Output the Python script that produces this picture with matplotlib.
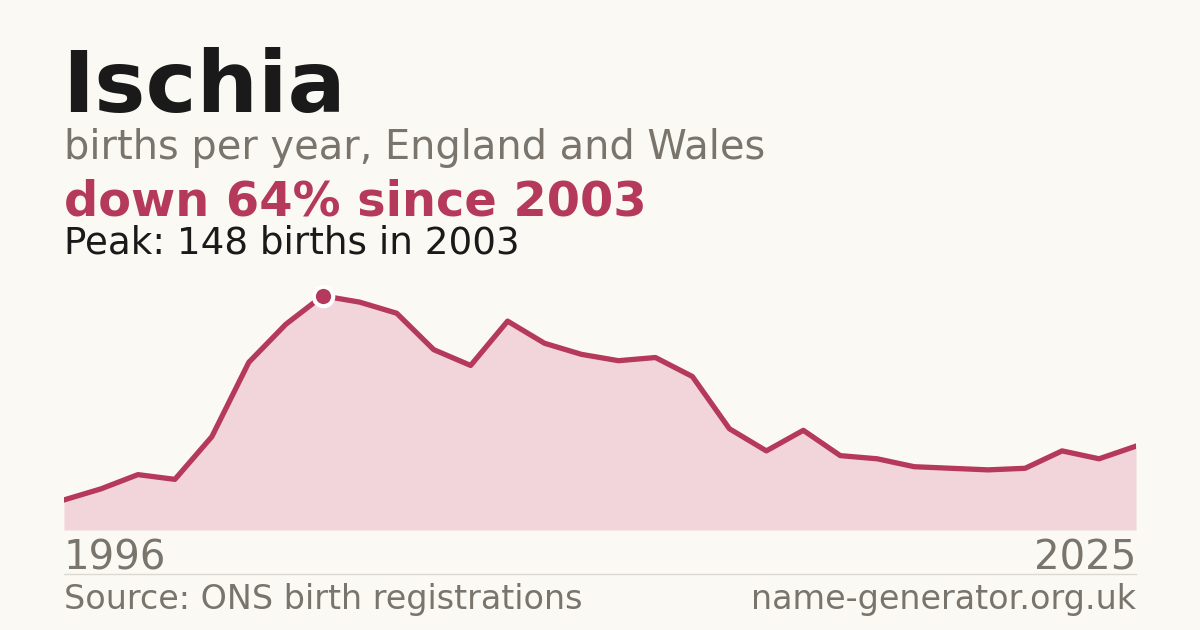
import numpy as np
import matplotlib.pyplot as plt

# births per year
years = np.arange(1996, 2026)
births = np.array([19, 26, 35, 32, 59, 106, 130, 148, 144, 137,
                   114, 104, 132, 118, 111, 107, 109, 97, 64, 50,
                   63, 47, 45, 40, 39, 38, 39, 50, 45, 53])

title = "Ischia"
subtitle = "births per year, England and Wales"
headline = "down 64% since 2003"
peak_note = "Peak: 148 births in 2003"
source = "Source: ONS birth registrations"
site = "name-generator.org.uk"

bg = "#faf9f4"
accent = "#b5395a"
fill_col = "#f1d5da"
grey = "#7a756c"
dark = "#1a1a1a"

W, H = 1200, 630
fig = plt.figure(figsize=(W / 100, H / 100), dpi=100, facecolor=bg)

def fy(py):
    # pixel row from top -> figure fraction
    return 1 - py / H

def fx(px):
    return px / W

# chart area
ax = fig.add_axes([fx(64), fy(530), fx(1136) - fx(64), fy(280) - fy(530)])
ax.set_facecolor(bg)
ax.fill_between(years, births, 0, color=fill_col, lw=0)
ax.plot(years, births, color=accent, lw=3.8, solid_joinstyle="round")
pk = np.argmax(births)
ax.plot(years[pk], births[pk], "o", ms=14, color=accent, mec="white", mew=3, zorder=5)
ax.set_xlim(years[0], years[-1])
ax.set_ylim(0, 158)
ax.axis("off")

# header text
fig.text(fx(62), fy(112), title, fontsize=62, fontweight="bold", color=dark, va="baseline")
fig.text(fx(64), fy(159), subtitle, fontsize=28.7, color=grey, va="baseline")
fig.text(fx(64), fy(215), headline, fontsize=34.5, fontweight="bold", color=accent, va="baseline")
fig.text(fx(64), fy(253), peak_note, fontsize=26.8, color=dark, va="baseline")

# axis end labels
fig.text(fx(64), fy(570), str(years[0]), fontsize=29, color=grey, va="baseline")
fig.text(fx(1136), fy(570), str(years[-1]), fontsize=29, color=grey, va="baseline", ha="right")

# footer
fig.add_artist(plt.Line2D([fx(64), fx(1136)], [fy(574), fy(574)], color="#dcd9d2", lw=1))
fig.text(fx(64), fy(609), source, fontsize=24, color=grey, va="baseline")
fig.text(fx(1136), fy(609), site, fontsize=24, color=grey, va="baseline", ha="right")

fig.savefig("out.png", dpi=100, facecolor=bg)
